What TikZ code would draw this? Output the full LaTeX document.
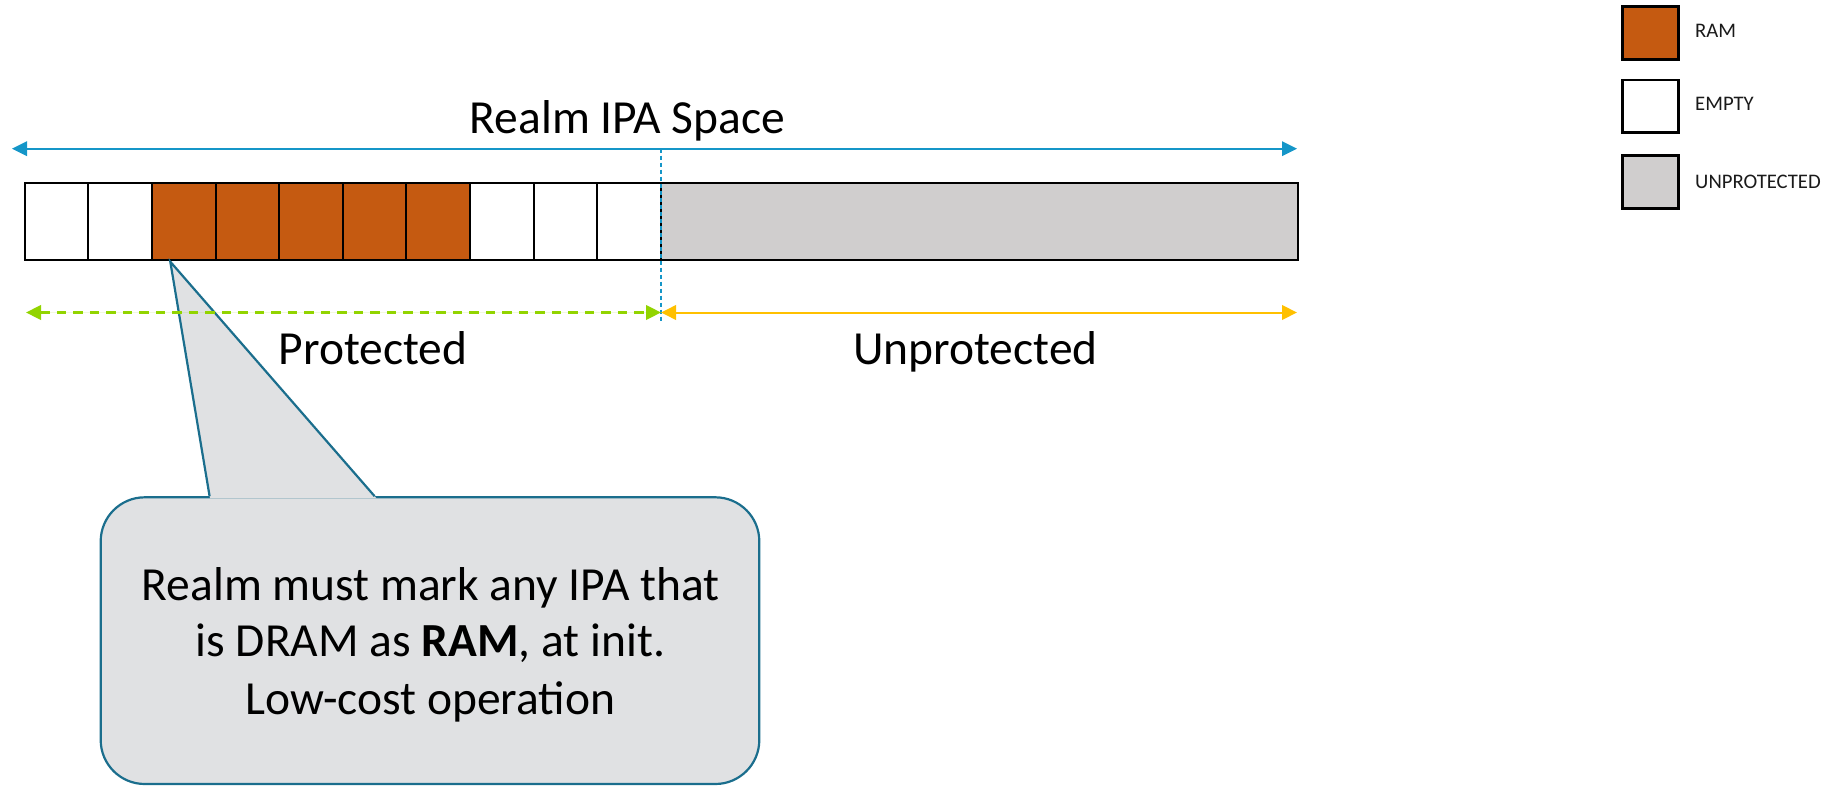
\documentclass[tikz,border=0pt]{standalone}
\usepackage{fontspec}
\setmainfont{Carlito}
\usetikzlibrary{arrows.meta}

\definecolor{ramfill}{HTML}{C55A11}
\definecolor{unprotfill}{HTML}{D0CECE}
\definecolor{notefill}{HTML}{E0E1E3}
\definecolor{noteline}{HTML}{1B6E8D}
\definecolor{spaceblue}{HTML}{1596C8}
\definecolor{protgreen}{HTML}{92D400}
\definecolor{unprotyellow}{HTML}{FFC000}
\definecolor{keytext}{HTML}{1A1A1A}

\tikzset{ipatip/.tip={Triangle[length=15pt,width=14.5pt]}}

\begin{document}
\begin{tikzpicture}[x=1pt,y=-1pt,
  cell/.style={draw=black, line width=2pt, minimum width=63.6pt,
               minimum height=77pt, inner sep=0pt},
  ramcell/.style={cell, fill=ramfill},
  emptycell/.style={cell, fill=white},
  unprotcell/.style={cell, fill=unprotfill, minimum width=636.7pt},
  spacearrow/.style={draw=spaceblue, line width=2pt, ipatip-ipatip},
  protarrow/.style={draw=protgreen, fill=protgreen, line width=2.3pt,
                    dash pattern=on 9.5pt off 7pt, ipatip-ipatip},
  unprotarrow/.style={draw=unprotyellow, fill=unprotyellow, line width=2pt, ipatip-ipatip},
  divider/.style={draw=spaceblue, line width=1.3pt, dash pattern=on 4pt off 3pt},
  bigtext/.style={font=\fontsize{47.5}{57}\selectfont, inner sep=0pt, text=black},
  note/.style={draw=noteline, fill=notefill, line width=2.2pt,
               rounded corners=44pt, minimum width=658.6pt,
               minimum height=286.7pt, inner sep=0pt},
  keybox/.style={draw=black, line width=2.7pt, minimum width=55.6pt,
                 minimum height=52.6pt, inner sep=0pt},
  keytext/.style={font=\fontsize{20.7}{24.8}\selectfont, inner sep=0pt,
                  text=keytext, anchor=base west}
]
\useasboundingbox (0,0) rectangle (1843,786);

% IPA space: ten granules, then the unprotected half
\foreach \i/\kind in {1/emptycell,2/emptycell,3/ramcell,4/ramcell,5/ramcell,
                      6/ramcell,7/ramcell,8/emptycell,9/emptycell,10/emptycell}
  \node[\kind] (c\i) at ({24.7+63.6*(\i-0.5)},221.2) {};
\node[unprotcell] (u) at (979.35,221.2) {};

% span arrows and the protected / unprotected split
\coordinate (spaceL) at (12,148.7);
\coordinate (spaceR) at (1297,148.7);
\coordinate (splitTop) at (661,148.7);
\coordinate (splitBot) at (661,323);
\coordinate (protL) at (26,312.5);
\coordinate (split) at (661,312.5);
\coordinate (unprotR) at (1297,312.5);

\draw[spacearrow] (spaceL) -- (spaceR);
\draw[divider] (splitTop) -- (splitBot);

% callout box with its pointer to the first RAM granule
\node[note] (note) at (430,640.65) {};
\coordinate (ptr) at ([xshift=19.4pt,yshift=-1pt]c3.south west);
\coordinate (ptrL) at ([xshift=110pt]note.north west);
\coordinate (ptrR) at ([xshift=275pt]note.north west);
\fill[notefill] (ptr) -- ([xshift=110.4pt,yshift=-2.2pt]note.north west)
  -- ([xshift=276.9pt,yshift=-2.2pt]note.north west) -- cycle;
\draw[draw=noteline, line width=2.2pt, line join=miter] (ptrL) -- (ptr) -- (ptrR);

\draw[protarrow] (protL) -- (split);
\draw[unprotarrow] (split) -- (unprotR);

% labels
\node[bigtext, anchor=base] (title) at (627.5,133.3) {Realm IPA Space};
\node[bigtext, anchor=base] (protlabel) at (373,364) {Protected};
\node[bigtext, anchor=base] (unprotlabel) at (975.5,364) {Unprotected};

\node[bigtext, anchor=base] (note1) at (430.5,600.7) {Realm must mark any IPA that};
\node[bigtext, anchor=base] (note2) at (430.5,656.7) {is DRAM as \textbf{RAM}, at init.};
\node[bigtext, anchor=base] (note3) at (430.5,714) {Low-cost operation};

% key
\node[keybox, fill=ramfill] (kram) at (1650.5,33) {};
\node[keybox, fill=white] (kempty) at (1650.5,106.3) {};
\node[keybox, fill=unprotfill] (kunprot) at (1650.5,182) {};
\node[keytext] (lram) at (1695,37.3) {RAM};
\node[keytext] (lempty) at (1695,110.7) {EMPTY};
\node[keytext] (lunprot) at (1695,188.3) {UNPROTECTED};
\end{tikzpicture}
\end{document}
